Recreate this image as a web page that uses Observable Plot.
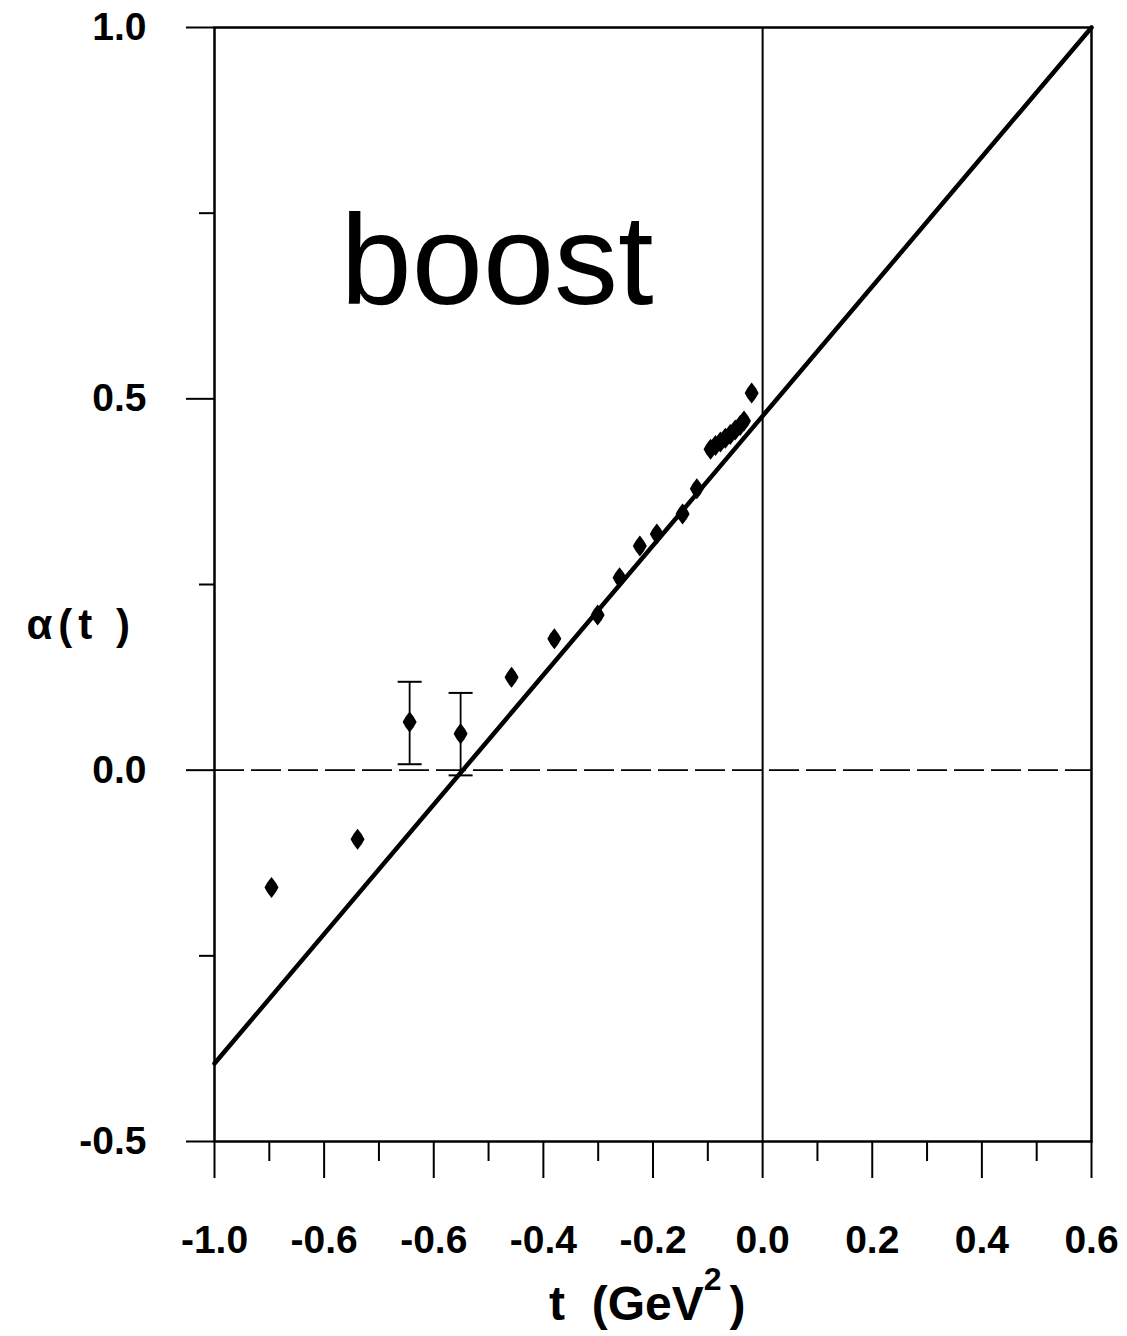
<!DOCTYPE html>
<html>
<head>
<meta charset="utf-8">
<script src="https://cdn.jsdelivr.net/npm/d3@7"></script>
<script src="https://cdn.jsdelivr.net/npm/@observablehq/plot@0.6"></script>
<style>
  html, body { margin: 0; padding: 0; background: #fff; }
</style>
</head>
<body>
<div id="chart"></div>
<script>
// ---- data ----
const pointT = [-0.896, -0.739, -0.644, -0.551, -0.458, -0.380, -0.301, -0.261, -0.224, -0.193, -0.146, -0.120,
                -0.095, -0.086, -0.077, -0.068, -0.059, -0.050, -0.041, -0.034, -0.020];
const pointAlpha = [-0.158, -0.093, 0.065, 0.049, 0.125, 0.177, 0.209, 0.259, 0.302, 0.318, 0.345, 0.379,
                0.432, 0.437, 0.442, 0.447, 0.452, 0.458, 0.464, 0.470, 0.508];
const errT = [-0.644, -0.551];
const errLow = [0.008, -0.007];
const errHigh = [0.119, 0.104];
const fitT = [-1.0, 0.6];
const fitAlpha = [-0.395, 1.0];
const xMajorTicks = [-1.0, -0.8, -0.6, -0.4, -0.2, 0.0, 0.2, 0.4, 0.6];
const xMajorLabels = ["-1.0", "-0.6", "-0.6", "-0.4", "-0.2", "0.0", "0.2", "0.4", "0.6"];
const xMinorTicks = [-0.9, -0.7, -0.5, -0.3, -0.1, 0.1, 0.3, 0.5];
const yMajorTicks = [-0.5, 0.0, 0.5, 1.0];
const yMajorLabels = ["-0.5", "0.0", "0.5", "1.0"];
const yMinorTicks = [-0.25, 0.25, 0.75];
const annotation = "boost";
const yTitle = "α(t )";
const xTitleMain = "t  (GeV";
const xTitleSup = "2";
const xTitleEnd = ")";

const points = pointT.map((t, i) => ({t, a: pointAlpha[i]}));
const errs = errT.map((t, i) => ({t, lo: errLow[i], hi: errHigh[i]}));
const fit = fitT.map((t, i) => ({t, a: fitAlpha[i]}));
const xLabelOf = new Map(xMajorTicks.map((v, i) => [v, xMajorLabels[i]]));
const yLabelOf = new Map(yMajorTicks.map((v, i) => [v, yMajorLabels[i]]));

const tallDiamond = {
  draw(ctx) {
    const w = 7, h = 10.5;
    ctx.moveTo(0, -h);
    ctx.quadraticCurveTo(w * 0.7, -h * 0.45, w, 0);
    ctx.quadraticCurveTo(w * 0.7, h * 0.45, 0, h);
    ctx.quadraticCurveTo(-w * 0.7, h * 0.45, -w, 0);
    ctx.quadraticCurveTo(-w * 0.7, -h * 0.45, 0, -h);
    ctx.closePath();
  }
};
const capSymbol = {
  draw(ctx) { ctx.moveTo(-12, 0); ctx.lineTo(12, 0); }
};

const font = "'Liberation Sans', Arial, Helvetica, sans-serif";

const chart = Plot.plot({
  width: 1127,
  height: 1336,
  marginLeft: 214,
  marginRight: 36,
  marginTop: 27,
  marginBottom: 195,
  x: {domain: [-1.0, 0.6], label: null},
  y: {domain: [-0.5, 1.0], label: null},
  style: {fontFamily: font, background: "#fff", color: "#000", overflow: "visible"},
  marks: [
    Plot.frame({stroke: "#000", strokeWidth: 2.5}),
    Plot.ruleX([0], {stroke: "#000", strokeWidth: 2}),
    Plot.ruleY([0], {stroke: "#000", strokeWidth: 1.6, strokeDasharray: "30,7"}),
    Plot.axisX(xMajorTicks, {tickSize: 37, tickPadding: 47, strokeWidth: 2,
      tickFormat: d => xLabelOf.get(d), fontSize: 39, fontWeight: "bold", label: null}),
    Plot.axisX(xMinorTicks, {tickSize: 20, strokeWidth: 2, tickFormat: () => "", label: null}),
    Plot.axisY(yMajorTicks, {tickSize: 28, tickPadding: 40, strokeWidth: 2,
      tickFormat: d => yLabelOf.get(d), fontSize: 39, fontWeight: "bold", label: null}),
    Plot.axisY(yMinorTicks, {tickSize: 15, strokeWidth: 2, tickFormat: () => "", label: null}),
    Plot.line(fit, {x: "t", y: "a", stroke: "#000", strokeWidth: 4.5}),
    Plot.ruleX(errs, {x: "t", y1: "lo", y2: "hi", stroke: "#000", strokeWidth: 1.8}),
    Plot.dot(errs, {x: "t", y: "lo", symbol: capSymbol, stroke: "#000", strokeWidth: 2, fill: "none"}),
    Plot.dot(errs, {x: "t", y: "hi", symbol: capSymbol, stroke: "#000", strokeWidth: 2, fill: "none"}),
    Plot.dot(points, {x: "t", y: "a", symbol: tallDiamond, fill: "#000", stroke: "none"}),
    Plot.text([annotation], {text: d => d, frameAnchor: "top-left", dx: 126, dy: 236,
      textAnchor: "start", lineAnchor: "middle", fontSize: 128, fontFamily: font, fill: "#000"}),
    Plot.text([yTitle], {text: d => d, frameAnchor: "left", dx: -188, dy: 41,
      textAnchor: "start", lineAnchor: "middle", fontSize: 42, fontWeight: "bold", fontFamily: font,
      fill: "#000", className: "ytitle"})
  ]
});

const svg = d3.select(chart);
svg.selectAll(".ytitle text").style("letter-spacing", "6px").style("white-space", "pre");

// x axis title with superscript
const title = svg.append("text")
  .attr("x", 549)
  .attr("y", 1320)
  .attr("text-anchor", "start")
  .attr("font-family", font)
  .attr("font-weight", "bold")
  .attr("font-size", 48)
  .attr("fill", "#000")
  .style("white-space", "pre");
title.append("tspan").text(xTitleMain);
title.append("tspan").attr("dy", -30).attr("font-size", 32).text(xTitleSup);
title.append("tspan").attr("dy", 30).attr("dx", 8).text(xTitleEnd);

document.getElementById("chart").appendChild(chart);
</script>
</body>
</html>
